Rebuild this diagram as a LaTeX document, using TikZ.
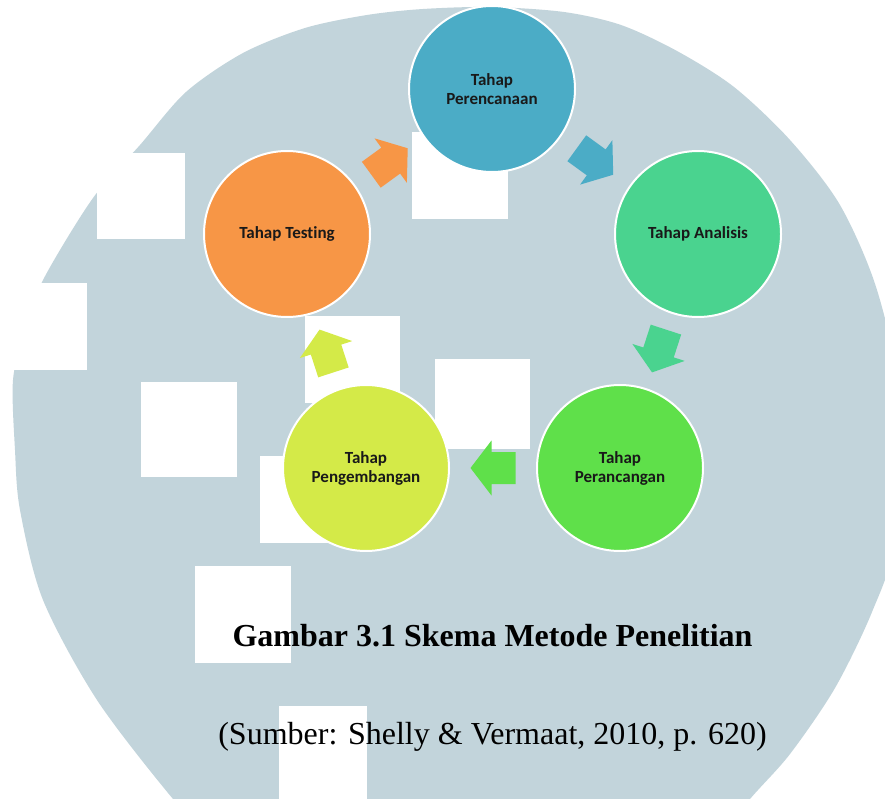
\documentclass[tikz,border=0pt]{standalone}
\usepackage{fontspec}
\setmainfont{Liberation Serif}
\newfontfamily\calfont[Ligatures=NoCommon]{Carlito}
\usetikzlibrary{calc}
\definecolor{wmgray}{RGB}{194,212,219}
\definecolor{cplan}{RGB}{75,172,198}
\definecolor{canal}{RGB}{74,211,143}
\definecolor{cranc}{RGB}{95,224,74}
\definecolor{ckemb}{RGB}{212,234,72}
\definecolor{ctest}{RGB}{247,150,70}
\tikzset{
  stage/.style={circle, minimum size=166pt, inner sep=0pt, draw=white, line width=2pt,
    font=\calfont\bfseries\fontsize{17}{19}\selectfont, text=black!90, align=center},
  wmsq/.style={fill=white},
  pics/barrow/.style={code={
    \fill[#1] (-22.5,-16) -- (1.5,-16) -- (1.5,-27.5) -- (22.5,0) -- (1.5,27.5) -- (1.5,16) -- (-22.5,16) -- cycle;}}
}
\begin{document}
\begin{tikzpicture}[x=1pt,y=-1pt]
\useasboundingbox (0,0) rectangle (885,799);
% watermark background
\begin{scope}
\clip (0,0) rectangle (885,799);
\fill[white] (0,0) rectangle (885,799);
\fill[wmgray] plot[smooth cycle] coordinates {
  (173,799) (97,700) (43,600) (20,510) (15,450) (13,380) (25,330) (43,280) (93,198)
  (140,145) (186,92) (243,53) (305,28) (367,15) (423,9) (491,7) (564,12) (621,25)
  (677,51) (734,87) (790,140) (840,205) (877,290) (900,400) (895,540) (872,612)
  (835,688) (790,754) (750,799) (700,860) (450,900) (230,860)};
\fill[wmsq] (412,132) rectangle (508,219);
\fill[wmsq] (97,153) rectangle (185,239);
\fill[wmsq] (0,283) rectangle (87,370);
\fill[wmsq] (305,316) rectangle (400,403);
\fill[wmsq] (141,382) rectangle (237,477);
\fill[wmsq] (435,359) rectangle (530,449);
\fill[wmsq] (260,456) rectangle (339,543);
\fill[wmsq] (195,566) rectangle (291,663);
\fill[wmsq] (279,706) rectangle (367,799);
\end{scope}
% stages
\node[stage, fill=cplan] (plan) at (492,89) {Tahap\\Perencanaan};
\node[stage, fill=canal] (anal) at (698,234) {Tahap Analisis};
\node[stage, fill=cranc] (ranc) at (620,468) {Tahap\\Perancangan};
\node[stage, fill=ckemb] (kemb) at (366,468) {Tahap\\Pengembangan};
\node[stage, fill=ctest] (test) at (287,234) {Tahap Testing};
% cycle arrows
\pic[rotate=-36] at ($(plan)!0.5!(anal)$) {barrow=cplan};
\pic[rotate=-108] at ($(anal)!0.5!(ranc)$) {barrow=canal};
\pic[rotate=180] at ($(ranc)!0.5!(kemb)$) {barrow=cranc};
\pic[rotate=108] at ($(kemb)!0.5!(test)$) {barrow=ckemb};
\pic[rotate=36] at ($(test)!0.5!(plan)$) {barrow=ctest};
% captions
\node[anchor=base, inner sep=0pt, font=\fontsize{32}{38}\selectfont\bfseries] (cap) at (492.5,646) {Gambar 3.1 Skema Metode Penelitian};
\node[anchor=base, inner sep=0pt, font=\fontsize{32}{38}\selectfont] (src) at (492.5,744) {(Sumber: Shelly \& Vermaat, 2010, p. 620)};
\end{tikzpicture}
\end{document}
